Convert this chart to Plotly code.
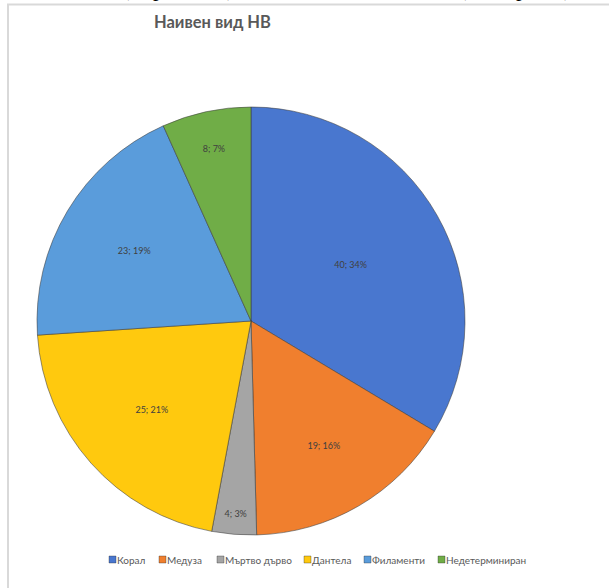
import plotly.graph_objects as go

categories = ["Корал", "Медуза", "Мъртво дърво", "Дантела", "Филаменти", "Недетерминиран"]
values = [40, 19, 4, 25, 23, 8]
colors = ["#4977CF", "#F07F2E", "#A5A5A5", "#FFC90E", "#5A9CDB", "#70AD47"]
title_text = "Наивен вид НВ"

W, H = 609, 588
FONT = "Lato, Open Sans, sans-serif"

fig = go.Figure()
fig.add_trace(go.Pie(
    labels=categories,
    values=values,
    sort=False,
    direction="clockwise",
    rotation=0,
    marker=dict(colors=colors, line=dict(color="rgba(60,60,60,0.55)", width=1)),
    texttemplate="%{value}; %{percent:.0%}",
    textposition="inside",
    insidetextorientation="horizontal",
    textfont=dict(family=FONT, size=9, color="#404040"),
    hoverinfo="label+value+percent",
    showlegend=False,
    domain=dict(x=[37 / W, 465 / W], y=[1 - 535 / H, 1 - 107 / H]),
))

# Chart-area border (document frame)
fig.add_shape(type="rect", xref="paper", yref="paper",
              x0=8 / W, x1=1.05, y0=-0.05, y1=1 - 4.5 / H,
              line=dict(color="#d9d9d9", width=2), fillcolor="rgba(0,0,0,0)", layer="below")

# Title
fig.add_annotation(text="<b>" + title_text + "</b>", xref="paper", yref="paper",
                   x=212 / W, y=1 - 21.5 / H, xanchor="center", yanchor="middle",
                   showarrow=False, font=dict(family=FONT, size=16.5, color="#595959"))

# Legend (compact, Excel-like): small squares followed directly by the label
legend_x = [109, 159, 217, 304, 364, 438]  # left edge of each legend square, px
legend_y = 559.5
for cat, col, lx in zip(categories, colors, legend_x):
    fig.add_shape(type="rect", xref="paper", yref="paper",
                  x0=lx / W, x1=(lx + 7) / W, y0=1 - (legend_y + 3.5) / H, y1=1 - (legend_y - 3.5) / H,
                  fillcolor=col, line=dict(color="rgba(40,40,40,0.5)", width=0.7))
    fig.add_annotation(text=cat, xref="paper", yref="paper", x=(lx + 7) / W, y=1 - legend_y / H,
                       xanchor="left", yanchor="middle", showarrow=False, borderpad=0,
                       font=dict(family=FONT, size=10, color="#595959"))

# Clipped document text at the very top
for txt, xp in [("(", 125), ("р", 158), (")", 230), (",", 237), ("(", 462), ("р", 521), (")", 567), (".", 573)]:
    fig.add_annotation(text=txt, xref="paper", yref="paper", x=xp / W, y=1 - 2.5 / H,
                       xanchor="center", yanchor="bottom", showarrow=False,
                       font=dict(family="Liberation Serif, serif", size=22, color="#000000"))

fig.update_layout(
    width=W, height=H,
    margin=dict(l=0, r=0, t=0, b=0),
    paper_bgcolor="white",
    plot_bgcolor="white",
    showlegend=False,
)

fig.write_html("out.html", config={"displayModeBar": False},
               post_script="document.body.style.margin='0';document.body.style.padding='0';")
